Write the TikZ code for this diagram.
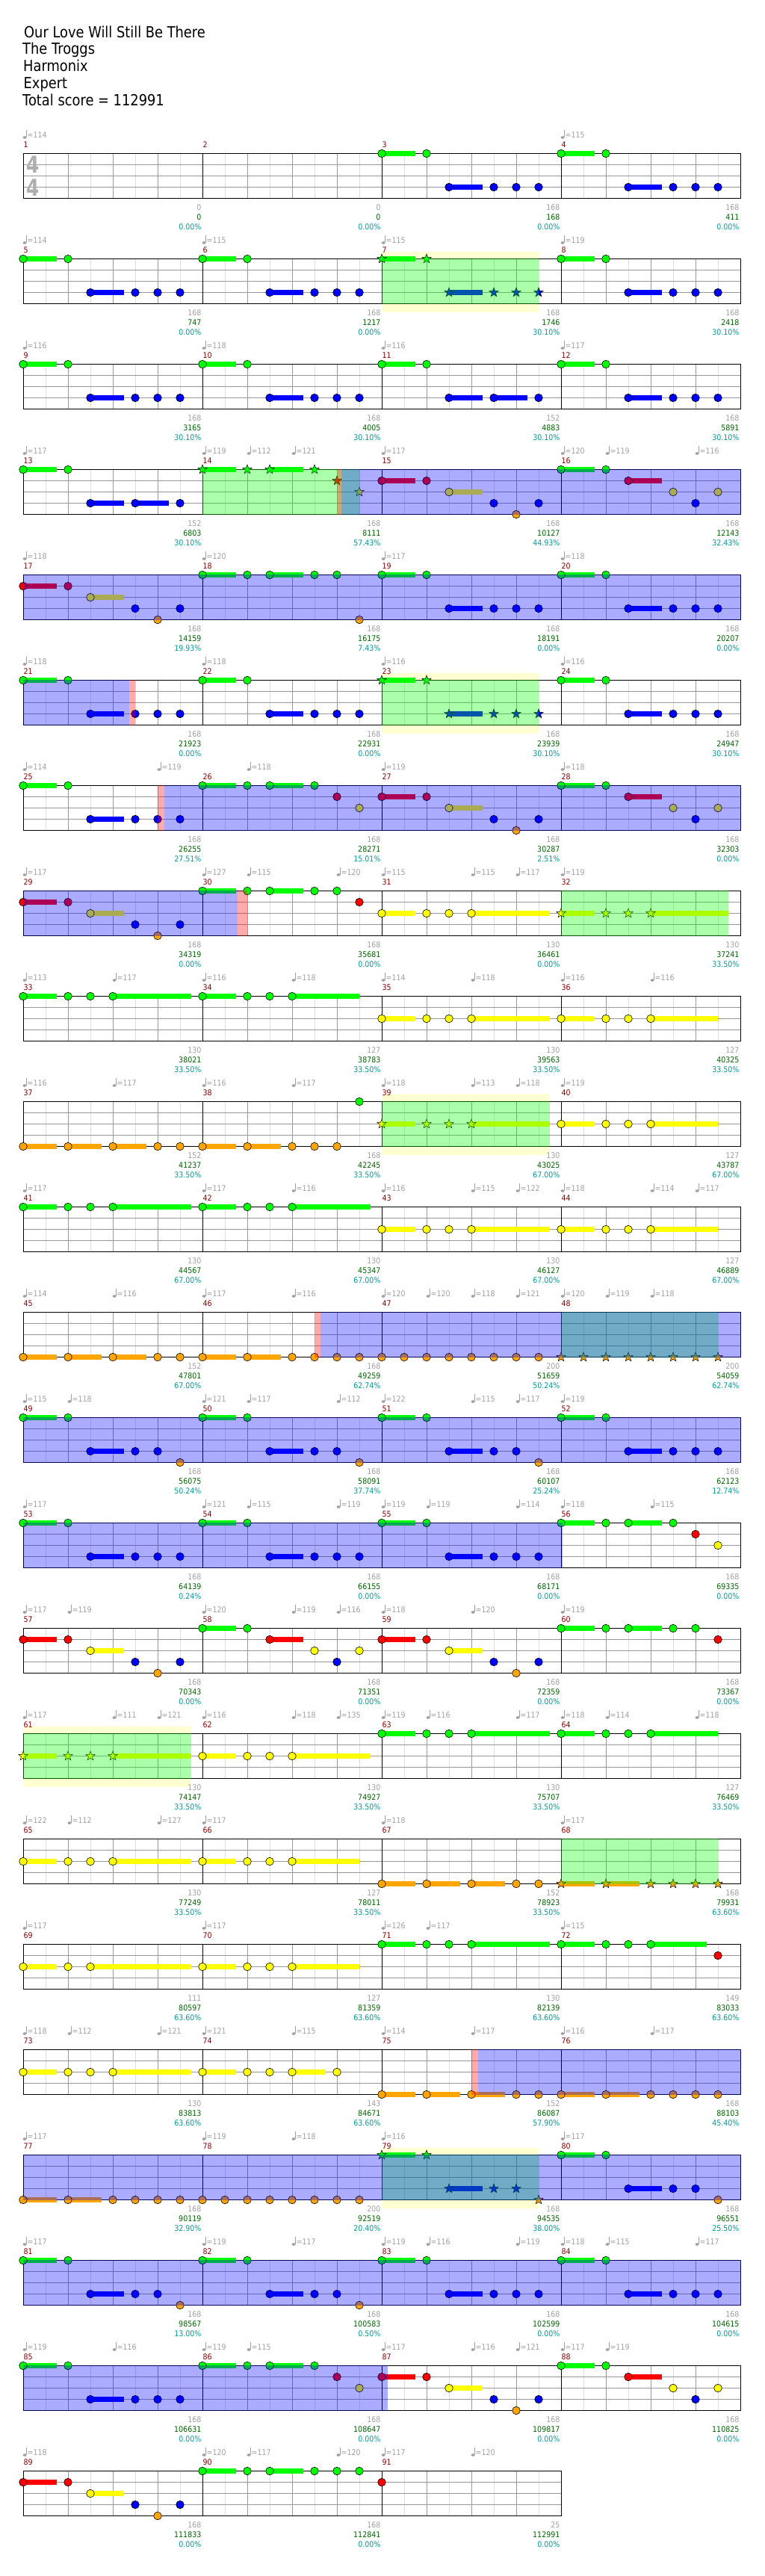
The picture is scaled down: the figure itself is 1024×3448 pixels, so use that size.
\documentclass[tikz,border=0pt]{standalone}
\usepackage{fontspec}
\usetikzlibrary{shapes.geometric}
\setmainfont{DejaVu Sans}
\newfontfamily\titlefont[FakeStretch=0.87]{DejaVu Sans}
\newfontfamily\chartfont[FakeStretch=0.9]{DejaVu Sans}
\newfontfamily\sigfont[FakeStretch=0.8]{DejaVu Sans}

\definecolor{lane0}{HTML}{00FF00}
\definecolor{lane1}{HTML}{FF0000}
\definecolor{lane2}{HTML}{FFFF00}
\definecolor{lane3}{HTML}{0000FF}
\definecolor{lane4}{HTML}{FFA500}
\definecolor{MeasRed}{HTML}{8B0000}
\definecolor{LabelGrey}{HTML}{A0A0A0}
\definecolor{ScoreGreen}{HTML}{006400}
\definecolor{PctTeal}{HTML}{009B9B}
\definecolor{GridDark}{HTML}{999999}
\definecolor{GridLight}{HTML}{DDDDDD}
\definecolor{BandYellow}{HTML}{FFFFD2}

% note patterns: lane/offset/sustain (offsets from the bar line)
\def\patA{0/0/45,0/60/0,3/90/45,3/150/0,3/180/0,3/210/0}
\def\patAo{0/0/45,0/60/0,3/90/45,3/150/0,3/180/0,4/210/0}
\def\patC{0/0/45,0/60/0,3/90/45,3/150/45,3/210/0}
\def\patD{1/0/45,1/60/0,2/90/45,3/150/0,4/180/0,3/210/0}
\def\patE{0/0/45,0/60/0,1/90/45,2/150/0,3/180/0,2/210/0}
\def\patF{0/0/45,0/60/0,0/90/45,0/150/0,0/180/0,4/210/0}
\def\patG{0/0/45,0/60/0,0/90/45,0/150/0,1/180/0,2/210/0}
\def\patH{0/0/45,0/60/0,0/90/45,0/150/0,0/180/0,1/210/0}
\def\patGG{0/0/45,0/60/0,0/90/45,0/150/0,0/180/0,0/210/0}
\def\runGa{0/0/45,0/60/0,0/90/0,0/120/105}
\def\runGb{0/0/45,0/60/0,0/90/0,0/120/90}
\def\runYa{2/0/45,2/60/0,2/90/0,2/120/105}
\def\runYb{2/0/45,2/60/0,2/90/0,2/120/90}
\def\patYc{2/0/45,2/60/0,2/90/135}
\def\patYe{2/0/45,2/60/0,2/90/0,2/120/45,2/180/0}
\def\patGd{0/0/45,0/60/0,0/90/0,0/120/75,1/210/0}
\def\patOa{4/0/45,4/60/45,4/120/45,4/180/0,4/210/0}
\def\patOb{4/0/45,4/60/45,4/120/0,4/150/0,4/180/0,0/210/0}
\def\patOc{4/0/45,4/60/45,4/120/0,4/150/0,4/180/0,4/210/0}
\def\patOe{4/0/0,4/30/0,4/60/0,4/90/0,4/120/0,4/150/0,4/180/0,4/210/0}
\def\patR{1/0/0}

% one staff row: #1 row, #2 last measure column
\newcommand{\staffrow}[2]{%
  \pgfmathsetmacro{\ty}{205.5+141*#1}
  \pgfmathsetmacro{\tx}{271+240*#2}
  \fill[white] (31,\ty) rectangle (\tx,\ty+60);
  \foreach \xx in {61,91,...,\tx} {\draw[gridlight] (\xx,\ty) -- ++(0,60);}
  \foreach \xx in {91,151,...,\tx} {\draw[griddark] (\xx,\ty) -- ++(0,60);}
  \foreach \k in {15,30,45} {\draw[griddark] (31,\ty+\k) -- (\tx,\ty+\k);}
  \foreach \c in {1,...,#2} {\draw[barline] (31+240*\c,\ty) -- ++(0,60);}
  \draw[barline] (31,\ty) rectangle (\tx,\ty+60);
  \foreach \c in {0,...,#2} {
    \pgfmathtruncatemacro{\mn}{4*#1+\c+1}
    \node[measnum] at (31.5+240*\c,\ty-11.7) {\mn};
  }
}

% notes of one measure: #1 row, #2 column, #3 pattern, #4 note style
\newcommand{\notesat}[4]{%
  \pgfmathsetmacro{\mx}{31+240*#2}
  \pgfmathsetmacro{\my}{205.5+141*#1}
  \foreach \la/\po/\su in #3 {
    \ifnum\su>0\relax
      \fill[lane\la] (\mx+\po,\my+15*\la-3.5) rectangle (\mx+\po+\su,\my+15*\la+3.5);
    \fi
    \node[#4, fill=lane\la] at (\mx+\po,\my+15*\la) {};
  }
}

\newcommand{\bandzone}[3]{\fill[BandYellow] (#2,205.5+141*#1-10) rectangle (#3,205.5+141*#1+71);}
\newcommand{\zone}[4]{\fill[#4, opacity=0.33] (#2,205.5+141*#1-0.5) rectangle (#3,205.5+141*#1+60.5);}

% tempo marks: #1 row, #2 list of beat/bpm
\newcommand{\tempos}[2]{%
  \pgfmathsetmacro{\ly}{205.5+141*#1}
  \foreach \bt/\bpm in {#2} {
    \pgfmathsetmacro{\bx}{31+60*\bt}
    \fill[LabelGrey] (\bx+2,\ly-21.5) ellipse (2.4 and 1.8);
    \draw[LabelGrey, line width=0.7pt] (\bx+4.1,\ly-21.5) -- (\bx+4.1,\ly-31.5);
    \node[tempolbl] at (\bx+5.5,\ly-24.5) {=\bpm};
  }
}

% numbers under each bar line: #1 row, #2 list of bar/weight/score/percent
\newcommand{\scores}[2]{%
  \pgfmathsetmacro{\ly}{205.5+141*#1}
  \foreach \c/\wt/\scv/\pc in {#2} {
    \node[wtlbl] at (29.5+240*\c,\ly+72.5) {\wt};
    \node[sclbl] at (29.5+240*\c,\ly+85.5) {\scv};
    \node[pctlbl] at (29.5+240*\c,\ly+98.5) {\pc\%};
  }
}

\begin{document}
\begin{tikzpicture}[x=1pt, y=-1pt,
    note/.style={circle, draw=black, line width=0.6pt, minimum size=10.6pt, inner sep=0pt},
    starnote/.style={star, star points=5, star point ratio=2.4, draw=black, line width=0.5pt,
        minimum size=13pt, inner sep=0pt},
    gridlight/.style={draw=GridLight, line width=0.8pt},
    griddark/.style={draw=GridDark, line width=0.8pt},
    barline/.style={draw=black, line width=1pt},
    titlelbl/.style={anchor=base west, inner sep=0pt, font=\titlefont\fontsize{20.5}{24}\selectfont},
    measnum/.style={anchor=west, inner sep=0pt, text=MeasRed, font=\chartfont\fontsize{10.5}{12}\selectfont},
    tempolbl/.style={anchor=west, inner sep=0pt, text=LabelGrey, font=\chartfont\fontsize{10.5}{12}\selectfont},
    wtlbl/.style={anchor=east, inner sep=0pt, text=LabelGrey, font=\chartfont\fontsize{10.5}{12}\selectfont},
    sclbl/.style={anchor=east, inner sep=0pt, text=ScoreGreen, font=\chartfont\fontsize{10.5}{12}\selectfont},
    pctlbl/.style={anchor=east, inner sep=0pt, text=PctTeal, font=\chartfont\fontsize{10.5}{12}\selectfont},
    sigdigit/.style={inner sep=0pt, text=LabelGrey!85, font=\sigfont\bfseries\fontsize{31}{31}\selectfont},
]
\useasboundingbox (0,0) rectangle (1024,3448);
\fill[white] (0,0) rectangle (1024,3448);

% === Title ===
\node[titlelbl] at (32,50) {Our Love Will Still Be There};
\node[titlelbl] at (30,72.5) {The Troggs};
\node[titlelbl] at (31,95.5) {Harmonix};
\node[titlelbl] at (31.5,118.5) {Expert};
\node[titlelbl] at (30,141.5) {Total score = 112991};

% =============================================
% STAVES
% =============================================
\bandzone{1}{511}{721}
\bandzone{5}{511}{721}
\bandzone{9}{511}{736}
\bandzone{15}{31}{256}
\bandzone{19}{511}{721}

\foreach \r in {0,...,21} {\staffrow{\r}{3}}
\staffrow{22}{2}

\node[sigdigit] at (44,220.5) {4};
\node[sigdigit] at (44,251) {4};

% =============================================
% NOTES
% =============================================
% measures 1-4
\notesat{0}{2}{\patA}{note}
\notesat{0}{3}{\patA}{note}
% measures 5-8
\notesat{1}{0}{\patA}{note}
\notesat{1}{1}{\patA}{note}
\notesat{1}{2}{\patA}{starnote}
\notesat{1}{3}{\patA}{note}
% measures 9-12
\notesat{2}{0}{\patA}{note}
\notesat{2}{1}{\patA}{note}
\notesat{2}{2}{\patC}{note}
\notesat{2}{3}{\patA}{note}
% measures 13-16
\notesat{3}{0}{\patC}{note}
\notesat{3}{1}{\patG}{starnote}
\notesat{3}{2}{\patD}{note}
\notesat{3}{3}{\patE}{note}
% measures 17-20
\notesat{4}{0}{\patD}{note}
\notesat{4}{1}{\patF}{note}
\notesat{4}{2}{\patA}{note}
\notesat{4}{3}{\patA}{note}
% measures 21-24
\notesat{5}{0}{\patA}{note}
\notesat{5}{1}{\patA}{note}
\notesat{5}{2}{\patA}{starnote}
\notesat{5}{3}{\patA}{note}
% measures 25-28
\notesat{6}{0}{\patA}{note}
\notesat{6}{1}{\patG}{note}
\notesat{6}{2}{\patD}{note}
\notesat{6}{3}{\patE}{note}
% measures 29-32
\notesat{7}{0}{\patD}{note}
\notesat{7}{1}{\patH}{note}
\notesat{7}{2}{\runYa}{note}
\notesat{7}{3}{\runYa}{starnote}
% measures 33-36
\notesat{8}{0}{\runGa}{note}
\notesat{8}{1}{\runGb}{note}
\notesat{8}{2}{\runYa}{note}
\notesat{8}{3}{\runYb}{note}
% measures 37-40
\notesat{9}{0}{\patOa}{note}
\notesat{9}{1}{\patOb}{note}
\notesat{9}{2}{\runYa}{starnote}
\notesat{9}{3}{\runYb}{note}
% measures 41-44
\notesat{10}{0}{\runGa}{note}
\notesat{10}{1}{\runGa}{note}
\notesat{10}{2}{\runYa}{note}
\notesat{10}{3}{\runYb}{note}
% measures 45-48
\notesat{11}{0}{\patOa}{note}
\notesat{11}{1}{\patOc}{note}
\notesat{11}{2}{\patOe}{note}
\notesat{11}{3}{\patOe}{starnote}
% measures 49-52
\notesat{12}{0}{\patAo}{note}
\notesat{12}{1}{\patAo}{note}
\notesat{12}{2}{\patAo}{note}
\notesat{12}{3}{\patA}{note}
% measures 53-56
\notesat{13}{0}{\patA}{note}
\notesat{13}{1}{\patA}{note}
\notesat{13}{2}{\patA}{note}
\notesat{13}{3}{\patG}{note}
% measures 57-60
\notesat{14}{0}{\patD}{note}
\notesat{14}{1}{\patE}{note}
\notesat{14}{2}{\patD}{note}
\notesat{14}{3}{\patH}{note}
% measures 61-64
\notesat{15}{0}{\runYa}{starnote}
\notesat{15}{1}{\runYa}{note}
\notesat{15}{2}{\runGa}{note}
\notesat{15}{3}{\runGb}{note}
% measures 65-68
\notesat{16}{0}{\runYa}{note}
\notesat{16}{1}{\runYb}{note}
\notesat{16}{2}{\patOa}{note}
\notesat{16}{3}{\patOc}{starnote}
% measures 69-72
\notesat{17}{0}{\patYc}{note}
\notesat{17}{1}{\runYb}{note}
\notesat{17}{2}{\runGa}{note}
\notesat{17}{3}{\patGd}{note}
% measures 73-76
\notesat{18}{0}{\runYa}{note}
\notesat{18}{1}{\patYe}{note}
\notesat{18}{2}{\patOa}{note}
\notesat{18}{3}{\patOc}{note}
% measures 77-80
\notesat{19}{0}{\patOc}{note}
\notesat{19}{1}{\patOe}{note}
\notesat{19}{2}{\patAo}{starnote}
\notesat{19}{3}{\patAo}{note}
% measures 81-84
\notesat{20}{0}{\patAo}{note}
\notesat{20}{1}{\patAo}{note}
\notesat{20}{2}{\patA}{note}
\notesat{20}{3}{\patA}{note}
% measures 85-88
\notesat{21}{0}{\patA}{note}
\notesat{21}{1}{\patG}{note}
\notesat{21}{2}{\patD}{note}
\notesat{21}{3}{\patE}{note}
% measures 89-91
\notesat{22}{0}{\patD}{note}
\notesat{22}{1}{\patGG}{note}
\notesat{22}{2}{\patR}{note}

% =============================================
% STAR POWER (green) AND OVERDRIVE (blue) ZONES
% =============================================
\zone{1}{511}{721}{lane0}
\zone{3}{271}{482}{lane0}
\zone{5}{511}{721}{lane0}
\zone{7}{751}{975}{lane0}
\zone{9}{511}{736}{lane0}
\zone{11}{751}{961}{lane0}
\zone{15}{30.5}{256}{lane0}
\zone{16}{751}{961}{lane0}
\zone{19}{511}{721}{lane0}

\zone{3}{457}{991.5}{lane3}
\zone{4}{30.5}{991.5}{lane3}
\zone{5}{30.5}{173}{lane3}
\zone{6}{220}{991.5}{lane3}
\zone{7}{30.5}{318}{lane3}
\zone{11}{429}{991.5}{lane3}
\zone{12}{30.5}{991.5}{lane3}
\zone{13}{30.5}{753}{lane3}
\zone{18}{640}{991.5}{lane3}
\zone{19}{30.5}{991.5}{lane3}
\zone{20}{30.5}{991.5}{lane3}
\zone{21}{30.5}{519}{lane3}

\zone{3}{452}{457}{lane1}
\zone{5}{173}{181}{lane1}
\zone{6}{211}{220}{lane1}
\zone{7}{318}{331}{lane1}
\zone{11}{421}{429}{lane1}
\zone{18}{631}{640}{lane1}

% =============================================
% TEMPO MARKS
% =============================================
\tempos{0}{0/114, 12/115}
\tempos{1}{0/114, 4/115, 8/115, 12/119}
\tempos{2}{0/116, 4/118, 8/116, 12/117}
\tempos{3}{0/117, 4/119, 5/112, 6/121, 8/117, 12/120, 13/119, 15/116}
\tempos{4}{0/118, 4/120, 8/117, 12/118}
\tempos{5}{0/118, 4/118, 8/116, 12/116}
\tempos{6}{0/114, 3/119, 5/118, 8/119, 12/118}
\tempos{7}{0/117, 4/127, 5/115, 7/120, 8/115, 10/115, 11/117, 12/119}
\tempos{8}{0/113, 2/117, 4/116, 6/118, 8/114, 10/118, 12/116, 14/116}
\tempos{9}{0/116, 2/117, 4/116, 6/117, 8/118, 10/113, 11/118, 12/119}
\tempos{10}{0/117, 4/117, 6/116, 8/116, 10/115, 11/122, 12/118, 14/114, 15/117}
\tempos{11}{0/114, 2/116, 4/117, 6/116, 8/120, 9/120, 10/118, 11/121, 12/120, 13/119, 14/118}
\tempos{12}{0/115, 1/118, 4/121, 5/117, 7/112, 8/122, 10/115, 11/117, 12/119}
\tempos{13}{0/117, 4/121, 5/115, 7/119, 8/119, 9/119, 11/114, 12/118, 14/115}
\tempos{14}{0/117, 1/119, 4/120, 6/119, 7/116, 8/118, 10/120, 12/119}
\tempos{15}{0/117, 2/111, 3/121, 4/116, 6/118, 7/135, 8/119, 9/116, 11/117, 12/118, 13/114, 15/118}
\tempos{16}{0/122, 1/112, 3/127, 4/117, 8/118, 12/117}
\tempos{17}{0/117, 4/117, 8/126, 9/117, 12/115}
\tempos{18}{0/118, 1/112, 3/121, 4/121, 6/115, 8/114, 10/117, 12/116, 14/117}
\tempos{19}{0/117, 4/119, 6/118, 8/116, 12/117}
\tempos{20}{0/117, 4/119, 6/117, 8/119, 9/116, 11/119, 12/118, 13/115, 15/117}
\tempos{21}{0/119, 2/116, 4/119, 5/115, 8/117, 10/116, 11/121, 12/117, 13/119}
\tempos{22}{0/118, 4/120, 5/117, 7/120, 8/117, 10/120}

% =============================================
% SCORES UNDER THE BAR LINES
% =============================================
\scores{0}{1/0/0/0.00, 2/0/0/0.00, 3/168/168/0.00, 4/168/411/0.00}
\scores{1}{1/168/747/0.00, 2/168/1217/0.00, 3/168/1746/30.10, 4/168/2418/30.10}
\scores{2}{1/168/3165/30.10, 2/168/4005/30.10, 3/152/4883/30.10, 4/168/5891/30.10}
\scores{3}{1/152/6803/30.10, 2/168/8111/57.43, 3/168/10127/44.93, 4/168/12143/32.43}
\scores{4}{1/168/14159/19.93, 2/168/16175/7.43, 3/168/18191/0.00, 4/168/20207/0.00}
\scores{5}{1/168/21923/0.00, 2/168/22931/0.00, 3/168/23939/30.10, 4/168/24947/30.10}
\scores{6}{1/168/26255/27.51, 2/168/28271/15.01, 3/168/30287/2.51, 4/168/32303/0.00}
\scores{7}{1/168/34319/0.00, 2/168/35681/0.00, 3/130/36461/0.00, 4/130/37241/33.50}
\scores{8}{1/130/38021/33.50, 2/127/38783/33.50, 3/130/39563/33.50, 4/127/40325/33.50}
\scores{9}{1/152/41237/33.50, 2/168/42245/33.50, 3/130/43025/67.00, 4/127/43787/67.00}
\scores{10}{1/130/44567/67.00, 2/130/45347/67.00, 3/130/46127/67.00, 4/127/46889/67.00}
\scores{11}{1/152/47801/67.00, 2/168/49259/62.74, 3/200/51659/50.24, 4/200/54059/62.74}
\scores{12}{1/168/56075/50.24, 2/168/58091/37.74, 3/168/60107/25.24, 4/168/62123/12.74}
\scores{13}{1/168/64139/0.24, 2/168/66155/0.00, 3/168/68171/0.00, 4/168/69335/0.00}
\scores{14}{1/168/70343/0.00, 2/168/71351/0.00, 3/168/72359/0.00, 4/168/73367/0.00}
\scores{15}{1/130/74147/33.50, 2/130/74927/33.50, 3/130/75707/33.50, 4/127/76469/33.50}
\scores{16}{1/130/77249/33.50, 2/127/78011/33.50, 3/152/78923/33.50, 4/168/79931/63.60}
\scores{17}{1/111/80597/63.60, 2/127/81359/63.60, 3/130/82139/63.60, 4/149/83033/63.60}
\scores{18}{1/130/83813/63.60, 2/143/84671/63.60, 3/152/86087/57.90, 4/168/88103/45.40}
\scores{19}{1/168/90119/32.90, 2/200/92519/20.40, 3/168/94535/38.00, 4/168/96551/25.50}
\scores{20}{1/168/98567/13.00, 2/168/100583/0.50, 3/168/102599/0.00, 4/168/104615/0.00}
\scores{21}{1/168/106631/0.00, 2/168/108647/0.00, 3/168/109817/0.00, 4/168/110825/0.00}
\scores{22}{1/168/111833/0.00, 2/168/112841/0.00, 3/25/112991/0.00}

\end{tikzpicture}
\end{document}
